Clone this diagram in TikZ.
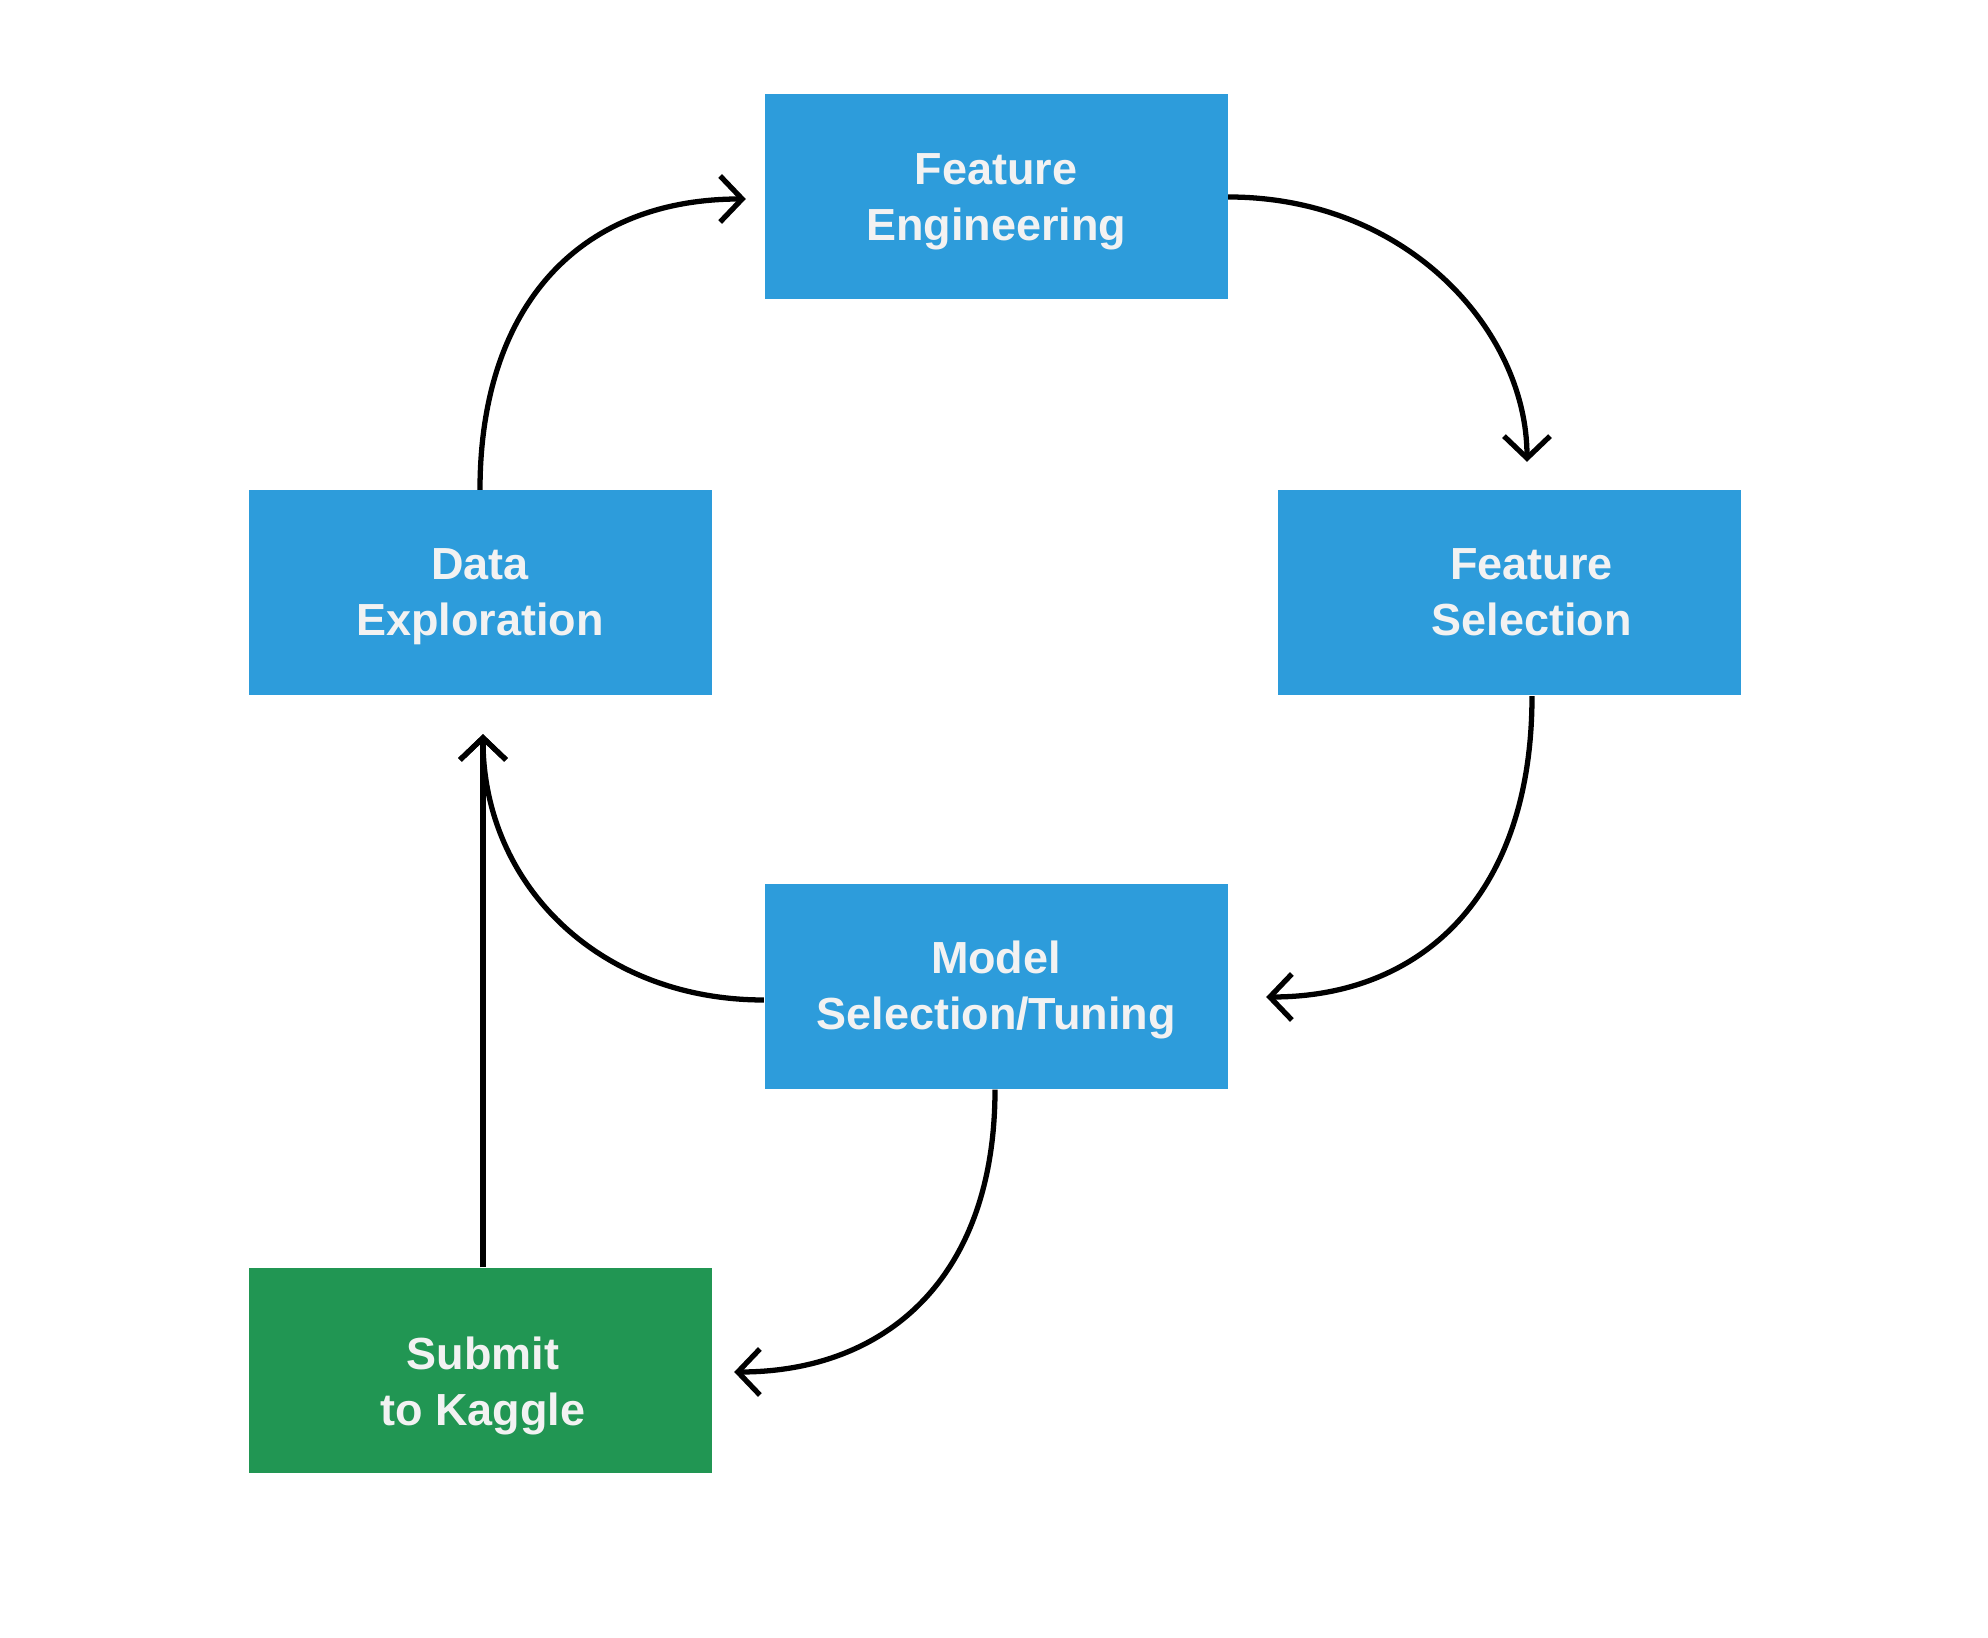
\documentclass[tikz,border=0pt]{standalone}
\usepackage{fontspec}
\setmainfont{Liberation Sans}
\usetikzlibrary{arrows.meta,calc}
\definecolor{boxblue}{HTML}{2D9CDB}
\definecolor{boxgreen}{HTML}{219653}
\definecolor{boxtext}{HTML}{F2F2F2}
\newcommand\twolines[2]{\vtop{\halign{\hfil##\hfil\cr #1\cr #2\cr}}}
\begin{document}
\begin{tikzpicture}[
  stage/.style={rectangle, fill=boxblue, minimum width=4.63cm, minimum height=2.05cm, inner sep=0pt},
  final/.style={stage, fill=boxgreen},
  lbl/.style={anchor=base, inner sep=0pt, text=boxtext, font=\fontsize{12.8}{15.93}\selectfont\bfseries},
  flow/.style={line width=1.5pt, -{Straight Barb[length=2.2mm,width=4.6mm]}}
]
\useasboundingbox (0,0) rectangle (19.88,-16.38);
\node[stage] (fe) at (9.96,-1.97) {};
\node[stage] (de) at (4.80,-5.93) {};
\node[stage] (fs) at (15.095,-5.93) {};
\node[stage] (ms) at (9.96,-9.865) {};
\node[final] (sk) at (4.80,-13.705) {};

\node[lbl] (fe-label) at ($(fe)+(0,0.125)$) {\twolines{Feature}{Engineering}};
\node[lbl] (de-label) at ($(de)+(0,0.13)$) {\twolines{Data}{Exploration}};
\node[lbl] (fs-label) at ($(fs)+(0.22,0.13)$) {\twolines{Feature}{Selection}};
\node[lbl] (ms-label) at ($(ms)+(0,0.125)$) {\twolines{Model}{Selection/Tuning}};
\node[lbl] (sk-label) at ($(sk)+(0.03,0.012)$) {\twolines{Submit}{to Kaggle}};

\coordinate (t1) at ($(fs.north)+(0.175,0.28)$);
\coordinate (s2) at ($(fs.south)+(0.225,0)$);
\coordinate (t2) at ($(ms.east)+(0.38,-0.105)$);
\coordinate (s3) at ($(ms.west)+(0,-0.135)$);
\coordinate (t3) at ($(de.south)+(0.03,-0.38)$);
\coordinate (s4) at ($(sk.north)+(0.03,0)$);
\coordinate (t5) at ($(fe.west)+(-0.18,-0.02)$);
\coordinate (s6) at ($(ms.south)+(-0.01,0)$);
\coordinate (t6) at ($(sk.east)+(0.22,-0.015)$);

\draw[flow] (fe.east) .. controls ($(fe.east)+(1.8,0)$) and ($(t1)+(0,1.3)$) .. (t1);
\draw[flow] (s2) .. controls ($(s2)+(0,-2.0)$) and ($(t2)+(1.55,0)$) .. (t2);
\draw[flow] (s3) .. controls ($(s3)+(-1.65,0)$) and ($(t3)+(0,-1.5)$) .. (t3);
\draw[flow] (s4) -- (t3);
\draw[flow] (de.north) .. controls ($(de.north)+(0,1.8)$) and ($(t5)+(-1.7,0)$) .. (t5);
\draw[flow] (s6) .. controls ($(s6)+(0,-1.9)$) and ($(t6)+(1.5,0)$) .. (t6);
\end{tikzpicture}
\end{document}
